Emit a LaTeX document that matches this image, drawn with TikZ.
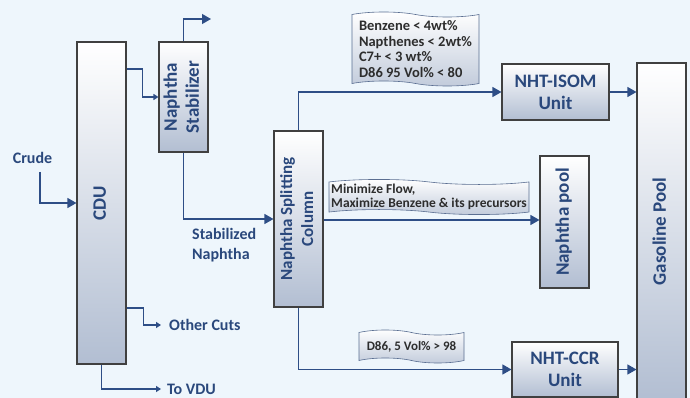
\documentclass[tikz,border=0pt]{standalone}
\usepackage{fontspec}
\usepackage{graphicx}
\setmainfont{Carlito}
\usetikzlibrary{arrows.meta, shapes.symbols, calc}

\definecolor{bgblue}{RGB}{238,246,252}
\definecolor{flowblue}{RGB}{46,78,134}
\definecolor{textblue}{RGB}{42,72,124}
\definecolor{boxedge}{RGB}{64,64,64}
\definecolor{boxshade}{RGB}{178,190,210}
\definecolor{noteedge}{RGB}{90,110,145}
\definecolor{notegray}{RGB}{45,45,45}

% text turned to read upward
\newcommand{\uptext}[1]{\rotatebox{90}{\begin{tabular}{@{}c@{}}#1\end{tabular}}}

\begin{document}
\begin{tikzpicture}[x=1pt, y=-1pt]
    % --- Style Definitions ---
    \tikzset{
        % Units drawn as shaded boxes
        unit box/.style={
            draw=boxedge,
            line width=1.1pt,
            top color=white,
            bottom color=boxshade,
            text=textblue,
            font=\fontsize{19}{22}\selectfont\bfseries,
            align=center,
            inner sep=0pt
        },
        % Columns and pools
        tower box/.style={
            unit box,
            minimum width=49pt
        },
        % Spec notes
        note tape/.style={
            tape,
            draw=noteedge,
            line width=0.6pt,
            top color=white,
            bottom color=boxshade!80,
            text=notegray,
            font=\fontsize{14.5}{15.5}\selectfont\bfseries,
            align=left,
            inner sep=0pt,
            tape bend top=out and in,
            tape bend bottom=out and in,
            tape bend height=5pt
        },
        % Stream labels
        stream text/.style={
            text=textblue,
            font=\fontsize{16}{20}\selectfont\bfseries,
            align=left,
            inner sep=0pt
        },
        % Arrow styling
        flow arrow/.style={
            -{Triangle[length=9pt, width=10pt]},
            line width=1.2pt,
            flowblue
        },
        small arrow/.style={
            -{Triangle[length=5pt, width=6pt]},
            line width=1.2pt,
            flowblue
        }
    }

    % background
    \useasboundingbox[fill=bgblue] (0,0) rectangle (690,398);

    % ==========================================
    % CRUDE SIDE: CDU and stabilizer
    % ==========================================
    \node[tower box, minimum height=322pt] (cdu) at (101.5,203) {\uptext{CDU}};
    \node[tower box, minimum height=110pt] (stab) at (183.5,97) {\uptext{Naphtha\\Stabilizer}};

    \node[stream text] (crude) at (32.5,158) {Crude};
    \node[stream text, anchor=west] (cuts) at (169,325) {Other Cuts};
    \node[stream text, anchor=base west] (vdu) at (167,394) {To VDU};
    \node[stream text, anchor=north west] (stab naphtha) at (192,228) {Stabilized\\Naphtha};
    \coordinate (crude start) at (40,172);
    \coordinate (cuts end) at (161,325);
    \coordinate (vdu end) at (161,389);
    \coordinate (stab gas) at (211,19);

    \draw[flow arrow] (crude start) |- (cdu.west);
    \draw[small arrow] (cdu.east |- 0,69) -- ++(16,0) |- (stab.west);
    \draw[flow arrow] (stab.north) |- (stab gas);
    \draw[small arrow] (cdu.east |- 0,308) -- ++(17,0) |- (cuts end);
    \draw[small arrow] (cdu.south) |- (vdu end);

    % ==========================================
    % SPLITTER SIDE: column, units and pools
    % ==========================================
    \node[tower box, minimum height=176pt, font=\fontsize{17}{21}\selectfont\bfseries] (nsc) at (298.5,219) {\uptext{Naphtha Splitting\\Column}};
    \node[unit box, minimum width=107pt, minimum height=56pt] (isom) at (555.5,92) {NHT-ISOM\\Unit};
    \node[unit box, minimum width=106pt, minimum height=55pt] (ccr) at (565,369.5) {NHT-CCR\\Unit};
    \node[tower box, minimum height=132pt] (pool) at (564.5,222) {\uptext{Naphtha pool}};
    \node[tower box, minimum height=337pt] (gas) at (661.5,231.5) {\uptext{Gasoline Pool}};

    % spec notes
    \node[note tape, minimum width=127pt, minimum height=74pt] (spec isom) at (415.5,49) {Benzene < 4wt\%\\Napthenes < 2wt\%\\C7+ < 3 wt\%\\D86 95 Vol\% < 80};
    \node[note tape, minimum width=200pt, minimum height=32pt, font=\fontsize{13.5}{13.5}\selectfont\bfseries] (spec pool) at (429,197) {Minimize Flow,\\Maximize Benzene \& its precursors};
    \node[note tape, minimum width=105pt, minimum height=33pt, font=\fontsize{13}{15}\selectfont\bfseries] (spec ccr) at (411.5,346.5) {D86, 5 Vol\% > 98};

    \draw[flow arrow] (stab.south) |- (nsc.west);
    \draw[flow arrow] (nsc.north) |- (isom.west);
    \draw[flow arrow] (nsc.east |- 0,220) -- (pool.west |- 0,220);
    \draw[flow arrow] (nsc.south) |- (ccr.west);
    \draw[flow arrow] (isom.east) -- (isom.east -| gas.west);
    \draw[flow arrow] (ccr.east) -- (ccr.east -| gas.west);

\end{tikzpicture}
\end{document}
